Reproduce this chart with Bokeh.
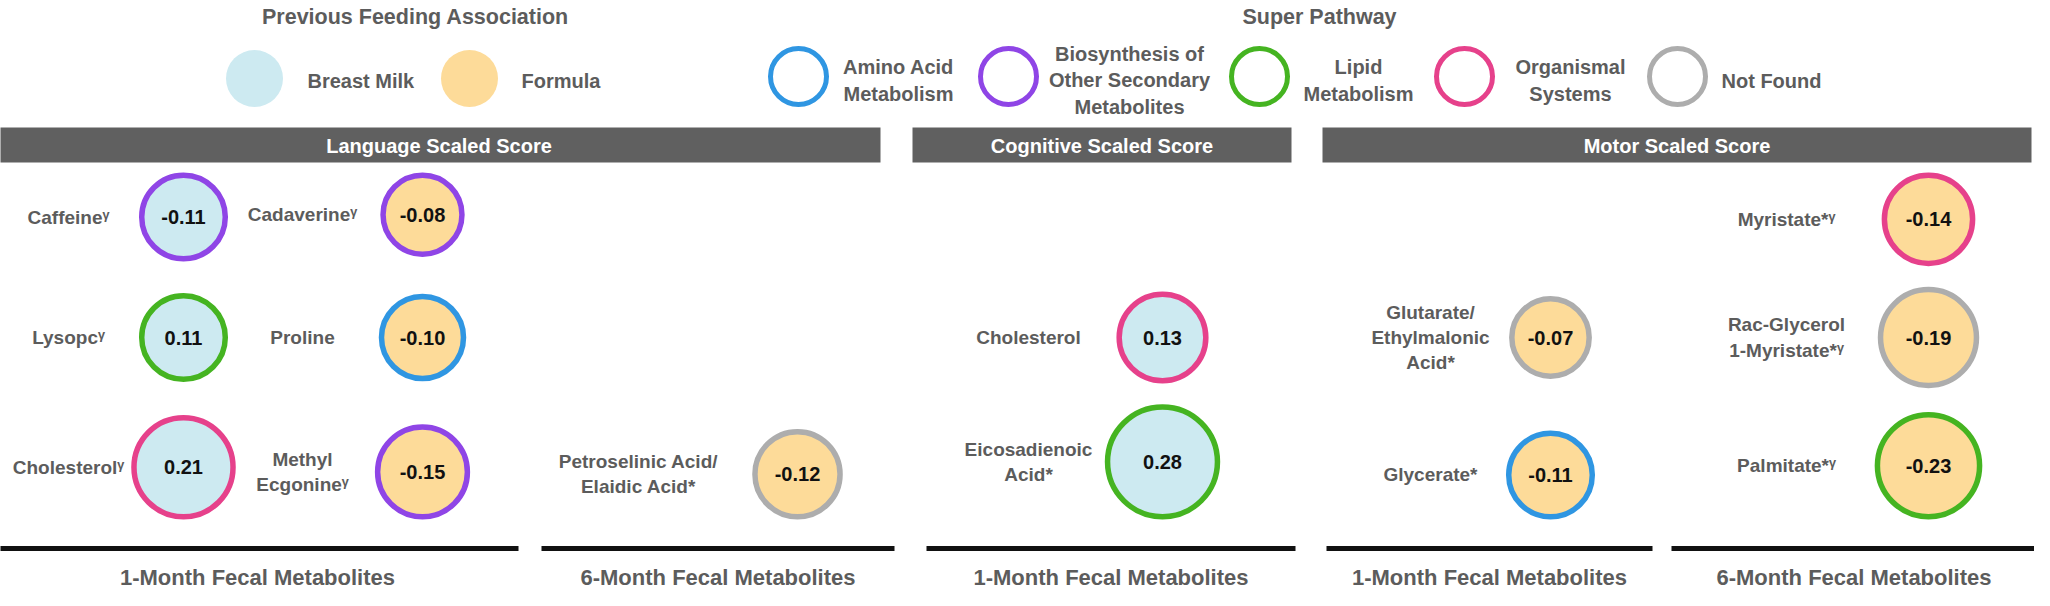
from bokeh.plotting import figure
from bokeh.models import ColumnDataSource, Range1d
from bokeh.core.properties import value
from bokeh.embed import file_html
from bokeh.resources import INLINE

# ---------------- data ----------------
metabolites = ["Caffeineᵞ", "Cadaverineᵞ", "Lysopcᵞ", "Proline", "Cholesterolᵞ", "Methyl\nEcgonineᵞ",
               "Petroselinic Acid/\nElaidic Acid*",
               "Cholesterol", "Eicosadienoic\nAcid*",
               "Glutarate/\nEthylmalonic\nAcid*", "Glycerate*",
               "Myristate*ᵞ", "Rac-Glycerol\n1-Myristate*ᵞ", "Palmitate*ᵞ"]
score = ["Language"] * 7 + ["Cognitive"] * 2 + ["Motor"] * 5
timepoint = ["1-Month"] * 6 + ["6-Month"] + ["1-Month"] * 2 + ["1-Month"] * 2 + ["6-Month"] * 3
correlation = [-0.11, -0.08, 0.11, -0.10, 0.21, -0.15, -0.12, 0.13, 0.28, -0.07, -0.11, -0.14, -0.19, -0.23]
feeding = ["Breast Milk", "Formula", "Breast Milk", "Formula", "Breast Milk", "Formula", "Formula",
           "Breast Milk", "Breast Milk", "Formula", "Formula", "Formula", "Formula", "Formula"]
pathway = ["Biosynthesis", "Biosynthesis", "Lipid", "Amino Acid", "Organismal", "Biosynthesis", "Not Found",
           "Organismal", "Lipid", "Not Found", "Amino Acid", "Organismal", "Not Found", "Lipid"]
row = [0, 0, 1, 1, 2, 2, 2, 1, 2, 1, 2, 0, 1, 2]
sub_column = [0, 1, 0, 1, 0, 1, 0, 0, 0, 0, 0, 0, 0, 0]

score_panels = ["Language Scaled Score", "Cognitive Scaled Score", "Motor Scaled Score"]
group_titles = ["1-Month Fecal Metabolites", "6-Month Fecal Metabolites", "1-Month Fecal Metabolites",
                "1-Month Fecal Metabolites", "6-Month Fecal Metabolites"]
feeding_cats = ["Breast Milk", "Formula"]
pathway_cats = ["Amino Acid", "Biosynthesis", "Lipid", "Organismal", "Not Found"]
pathway_labels = ["Amino Acid\nMetabolism", "Biosynthesis of\nOther Secondary\nMetabolites",
                  "Lipid\nMetabolism", "Organismal\nSystems", "Not Found"]
legend_titles = ["Previous Feeding Association", "Super Pathway"]

# ---------------- styles / layout ----------------
FEED_COL = {"Breast Milk": "#cdeaf1", "Formula": "#fddb99"}
PATH_COL = {"Amino Acid": "#2f96e2", "Biosynthesis": "#8f45e6", "Lipid": "#45b421",
            "Organismal": "#e6418b", "Not Found": "#adadad"}
GREY = "#5c5c5c"
FONT = value("Liberation Sans")

# group layout: (score, timepoint) -> circle x per sub column, label x per sub column, line span
GROUPS = {
    ("Language", "1-Month"): dict(cx=[191, 430], lx=[76, 310], line=(4, 526)),
    ("Language", "6-Month"): dict(cx=[805], lx=[646], line=(549, 902)),
    ("Cognitive", "1-Month"): dict(cx=[1170], lx=[1036], line=(934, 1303)),
    ("Motor", "1-Month"): dict(cx=[1558], lx=[1438], line=(1334, 1660)),
    ("Motor", "6-Month"): dict(cx=[1936], lx=[1794], line=(1679, 2044)),
}
BARS = [(5, 888), (920, 1299), (1330, 2039)]
LW = 5.5


def diameter(v):
    return 72 + 155 * abs(v)


cx, lx, cy, rad, fills, edges, vals = [], [], [], [], [], [], []
for i in range(len(metabolites)):
    g = GROUPS[(score[i], timepoint[i])]
    d = diameter(correlation[i])
    cx.append(g["cx"][sub_column[i]])
    lx.append(g["lx"][sub_column[i]])
    if row[i] == 0:
        y = 180 + d / 2
    elif row[i] == 1:
        y = 345
    else:
        y = 527 - d / 2
    cy.append(y)
    rad.append(d / 2 - LW / 2)
    fills.append(FEED_COL[feeding[i]])
    edges.append(PATH_COL[pathway[i]])
    vals.append("%.2f" % correlation[i])

src = ColumnDataSource(dict(cx=cx, cy=cy, lx=lx, r=rad, fill=fills, edge=edges, val=vals, name=metabolites))

W, H = 2034, 590
p = figure(width=W, height=H, x_range=Range1d(8, 8 + W), y_range=Range1d(8 + H, 8),
           output_backend="svg", toolbar_location=None, min_border=0,
           x_axis_location=None, y_axis_location=None)
p.grid.grid_line_color = None
p.outline_line_color = None

# header bars
p.quad(left=[b[0] for b in BARS], right=[b[1] for b in BARS], top=[135] * 3, bottom=[170] * 3,
       fill_color="#606060", line_color=None)
p.text(x=[(b[0] + b[1]) / 2 for b in BARS], y=[153] * 3, text=score_panels, text_align="center",
       text_baseline="middle", text_font=FONT, text_font_style="bold", text_font_size="20px",
       text_color="white")

# group lines and titles
gkeys = list(GROUPS.keys())
p.segment(x0=[GROUPS[k]["line"][0] for k in gkeys], x1=[GROUPS[k]["line"][1] for k in gkeys],
          y0=[556] * 5, y1=[556] * 5, line_color="#111111", line_width=5)
p.text(x=[sum(GROUPS[k]["line"]) / 2 for k in gkeys], y=[585] * 5, text=group_titles,
       text_align="center", text_baseline="alphabetic", text_font=FONT, text_font_style="bold",
       text_font_size="22px", text_color=GREY)

# metabolite circles
p.circle(x="cx", y="cy", radius="r", fill_color="fill", line_color="edge", line_width=LW, source=src)
p.text(x="cx", y="cy", text="val", text_align="center", text_baseline="middle", text_font=FONT,
       text_font_style="bold", text_font_size="20px", text_color="#111111", source=src)
p.text(x="lx", y="cy", text="name", text_align="center", text_baseline="middle", text_font=FONT,
       text_font_style="bold", text_font_size="19px", text_color=GREY, text_line_height=1.2, source=src)

# legend titles
p.text(x=[423, 1327], y=[24, 24], text=legend_titles,
       text_align="center", text_baseline="alphabetic", text_font=FONT, text_font_style="bold",
       text_font_size="21.5px", text_color=GREY)

# feeding legend
feed_cx = [262, 477]
feed_tx = [315, 529]
p.circle(x=feed_cx, y=[86, 86], radius=28.5, fill_color=[FEED_COL[c] for c in feeding_cats], line_color=None)
p.text(x=feed_tx, y=[88, 88], text=feeding_cats, text_align="left", text_baseline="middle",
       text_font=FONT, text_font_style="bold", text_font_size="20px", text_color=GREY)

# pathway legend
path_cx = [806, 1016, 1267, 1472, 1685]
path_tx = [906, 1137, 1366, 1578, 1779]
p.circle(x=path_cx, y=[84] * 5, radius=28, fill_color="white",
         line_color=[PATH_COL[c] for c in pathway_cats], line_width=5)
p.text(x=path_tx, y=[88] * 5, text=pathway_labels, text_align="center", text_baseline="middle",
       text_font=FONT, text_font_style="bold", text_font_size="20px", text_color=GREY,
       text_line_height=1.2)

open("out.html", "w").write(file_html(p, INLINE))
